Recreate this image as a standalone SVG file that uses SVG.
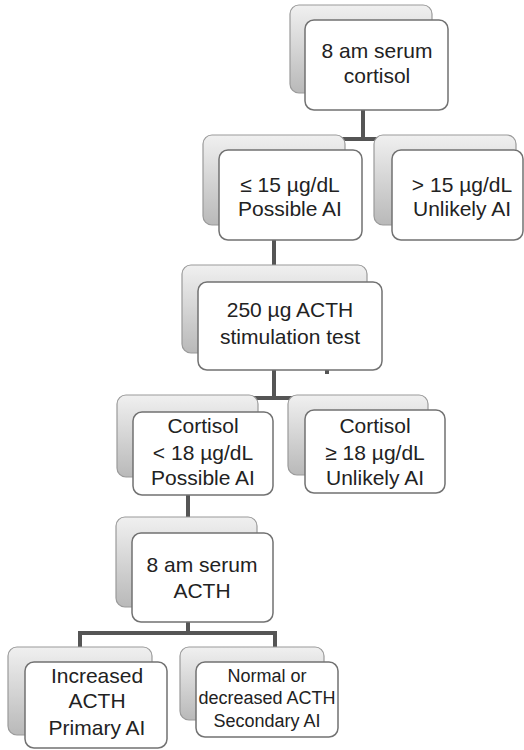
<svg xmlns="http://www.w3.org/2000/svg" width="524" height="750" viewBox="0 0 524 750">
  <defs>
    <linearGradient id="backFill" x1="0" y1="0" x2="0" y2="1">
      <stop offset="0" stop-color="#f0f0f0"/>
      <stop offset="1" stop-color="#b9b9b9"/>
    </linearGradient>
    <style>
      .back { fill: url(#backFill); stroke: #9a9a9a; stroke-width: 1.2; }
      .front { fill: #ffffff; stroke: #727272; stroke-width: 1.5; }
      .lbl { font-family: "Liberation Sans", Arial, sans-serif; font-size: 21px; fill: #222222; text-anchor: middle; }
      .small { font-size: 18px; }
      .conn { fill: none; stroke: #555555; stroke-width: 4; }
    </style>
  </defs>

  <rect width="524" height="750" fill="#ffffff"/>

  <!-- connectors -->
  <g id="connectors">
    <path class="conn" d="M363,110 V139 M270,139 H450"/>
    <path class="conn" d="M274,240 V266"/>
    <path class="conn" d="M274,370 V398 M190,398 H360"/>
    <path class="conn" d="M327,363 V374" stroke-width="3"/>
    <path class="conn" d="M188,495 V518"/>
    <path class="conn" d="M188,622 V633 M80,633 H275 M80,631 V648 M275,631 V648"/>
  </g>

  <!-- 8 am serum cortisol -->
  <g id="node-cortisol">
    <rect class="back" x="290" y="5" width="142" height="88" rx="9"/>
    <rect class="front" x="305" y="20" width="143" height="90" rx="9"/>
    <text class="lbl" x="377" y="58">8 am serum</text>
    <text class="lbl" x="377" y="83">cortisol</text>
  </g>

  <!-- ≤ 15 µg/dL -->
  <g id="node-le15">
    <rect class="back" x="203" y="135" width="142" height="90" rx="9"/>
    <rect class="front" x="219" y="150" width="143" height="90" rx="9"/>
    <text class="lbl" x="290" y="192">≤ 15 µg/dL</text>
    <text class="lbl" x="290" y="216">Possible AI</text>
  </g>

  <!-- > 15 µg/dL -->
  <g id="node-gt15">
    <rect class="back" x="374" y="135" width="142" height="90" rx="9"/>
    <rect class="front" x="392" y="150" width="131" height="90" rx="9"/>
    <text class="lbl" x="462" y="192">&gt; 15 µg/dL</text>
    <text class="lbl" x="462" y="216">Unlikely AI</text>
  </g>

  <!-- ACTH stimulation test -->
  <g id="node-stim">
    <rect class="back" x="182" y="265" width="185" height="88" rx="9"/>
    <rect class="front" x="198" y="282" width="184" height="88" rx="9"/>
    <text class="lbl" x="290" y="317">250 µg ACTH</text>
    <text class="lbl" x="290" y="344">stimulation test</text>
  </g>

  <!-- Cortisol < 18 -->
  <g id="node-lt18">
    <rect class="back" x="117" y="395" width="141" height="82" rx="9"/>
    <rect class="front" x="133" y="412" width="140" height="83" rx="9"/>
    <text class="lbl" x="203" y="433">Cortisol</text>
    <text class="lbl" x="203" y="460">&lt; 18 µg/dL</text>
    <text class="lbl" x="203" y="485">Possible AI</text>
  </g>

  <!-- Cortisol ≥ 18 -->
  <g id="node-ge18">
    <rect class="back" x="288" y="395" width="140" height="80" rx="9"/>
    <rect class="front" x="305" y="410" width="140" height="83" rx="9"/>
    <text class="lbl" x="375" y="433">Cortisol</text>
    <text class="lbl" x="375" y="460">≥ 18 µg/dL</text>
    <text class="lbl" x="375" y="485">Unlikely AI</text>
  </g>

  <!-- 8 am serum ACTH -->
  <g id="node-acth">
    <rect class="back" x="116" y="517" width="141" height="90" rx="9"/>
    <rect class="front" x="132" y="533" width="141" height="89" rx="9"/>
    <text class="lbl" x="202" y="572">8 am serum</text>
    <text class="lbl" x="202" y="598">ACTH</text>
  </g>

  <!-- Increased ACTH -->
  <g id="node-primary">
    <rect class="back" x="8" y="647" width="144" height="88" rx="9"/>
    <rect class="front" x="25" y="662" width="142" height="86" rx="9"/>
    <text class="lbl" x="97" y="683">Increased</text>
    <text class="lbl" x="97" y="708">ACTH</text>
    <text class="lbl" x="97" y="735">Primary AI</text>
  </g>

  <!-- Normal or decreased ACTH -->
  <g id="node-secondary">
    <rect class="back" x="180" y="647" width="144" height="73" rx="9"/>
    <rect class="front" x="196" y="662" width="142" height="75" rx="9"/>
    <text class="lbl small" x="267" y="682">Normal or</text>
    <text class="lbl small" x="267" y="704">decreased ACTH</text>
    <text class="lbl small" x="267" y="727">Secondary AI</text>
  </g>
</svg>
